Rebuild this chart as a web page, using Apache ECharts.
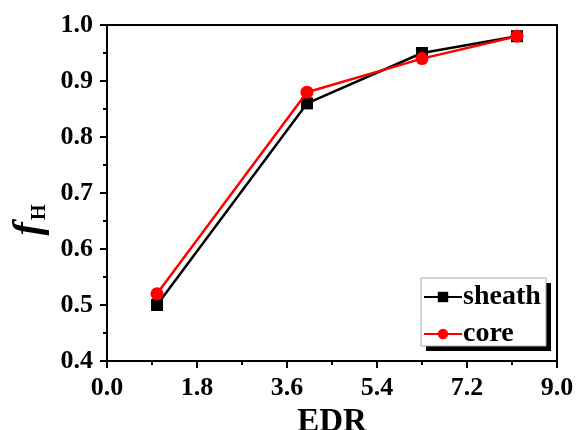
<!DOCTYPE html>
<html>
<head>
<meta charset="utf-8">
<script src="https://cdn.jsdelivr.net/npm/echarts@6/dist/echarts.min.js"></script>
<style>
  html, body { margin: 0; padding: 0; background: #fff; }
  #main { width: 576px; height: 430px; }
</style>
</head>
<body>
<div id="main"></div>
<script>
// EDR vs f_H
var edr = [1.0, 4.0, 6.3, 8.2];
var sheath = [0.50, 0.86, 0.95, 0.98];
var core = [0.52, 0.88, 0.94, 0.98];
var xTicks = { min: 0, max: 9, interval: 1.8 };
var yTicks = { min: 0.4, max: 1.0, interval: 0.1 };

function pairs (xs, ys) {
  return xs.map(function (x, i) { return [x, ys[i]]; });
}

var font = 'Liberation Serif';
var myChart = echarts.init(document.getElementById('main'));

// legend frame with offset shadow
var box = { x: 421, y: 278, w: 125, h: 68, off: 5 };

var option = {
  animation: false,
  backgroundColor: '#fff',
  grid: {
    left: 107,
    right: 19,
    top: 25,
    bottom: 69,
    outerBoundsMode: 'none',
    containLabel: false,
    show: true,
    borderColor: '#000',
    borderWidth: 2
  },
  graphic: [{
    type: 'rect',
    z: 20,
    shape: { x: box.x + box.off, y: box.y + box.off, width: box.w, height: box.h },
    style: { fill: '#000' }
  }, {
    type: 'rect',
    z: 21,
    shape: { x: box.x, y: box.y, width: box.w, height: box.h },
    style: { fill: '#fff', stroke: '#aaa', lineWidth: 1 }
  }],
  legend: {
    orient: 'vertical',
    left: 421,
    top: 277,
    z: 30,
    padding: [6, 4, 4, 2],
    itemGap: 9,
    itemWidth: 38,
    itemHeight: 13,
    textStyle: {
      fontFamily: font,
      fontWeight: 'bold',
      fontSize: 28,
      color: '#000',
      padding: [0, 0, 0, -4]
    },
    data: ['sheath', 'core']
  },
  xAxis: {
    type: 'value',
    min: xTicks.min,
    max: xTicks.max,
    interval: xTicks.interval,
    name: 'EDR',
    nameLocation: 'middle',
    nameGap: 39,
    nameTextStyle: {
      fontFamily: font,
      fontWeight: 'bold',
      fontSize: 33,
      color: '#000'
    },
    splitLine: { show: false },
    axisLine: { lineStyle: { color: '#000', width: 2 } },
    axisTick: { length: 7, lineStyle: { color: '#000', width: 2 } },
    minorTick: { show: true, splitNumber: 2, length: 4, lineStyle: { color: '#000', width: 2 } },
    axisLabel: {
      margin: 14,
      fontFamily: font,
      fontWeight: 'bold',
      fontSize: 26,
      color: '#000',
      formatter: function (v) { return v.toFixed(1); }
    }
  },
  yAxis: {
    type: 'value',
    min: yTicks.min,
    max: yTicks.max,
    interval: yTicks.interval,
    name: '{f|f}{h|H}',
    nameLocation: 'middle',
    nameRotate: 90,
    nameGap: 56,
    nameTextStyle: {
      padding: [0, 54, 0, 0],
      rich: {
        f: {
          fontFamily: font,
          fontStyle: 'italic',
          fontWeight: 'bold',
          fontSize: 40,
          color: '#000',
          verticalAlign: 'middle',
          lineHeight: 40
        },
        h: {
          fontFamily: font,
          fontWeight: 'bold',
          fontSize: 20,
          color: '#000',
          padding: [16, 0, 0, 2],
          verticalAlign: 'bottom'
        }
      }
    },
    splitLine: { show: false },
    axisLine: { lineStyle: { color: '#000', width: 2 } },
    axisTick: { length: 7, lineStyle: { color: '#000', width: 2 } },
    minorTick: { show: true, splitNumber: 2, length: 4, lineStyle: { color: '#000', width: 2 } },
    axisLabel: {
      margin: 14,
      fontFamily: font,
      fontWeight: 'bold',
      fontSize: 26,
      color: '#000',
      formatter: function (v) { return v.toFixed(1); }
    }
  },
  series: [{
    name: 'sheath',
    type: 'line',
    data: pairs(edr, sheath),
    symbol: 'rect',
    symbolSize: 12,
    lineStyle: { color: '#000', width: 2.5 },
    itemStyle: { color: '#000' },
    z: 2
  }, {
    name: 'core',
    type: 'line',
    data: pairs(edr, core),
    symbol: 'circle',
    symbolSize: 13,
    lineStyle: { color: '#f00', width: 2.5 },
    itemStyle: { color: '#f00' },
    z: 3
  }]
};

myChart.setOption(option);
window.addEventListener('resize', function () {
  myChart.resize();
});
</script>
</body>
</html>
